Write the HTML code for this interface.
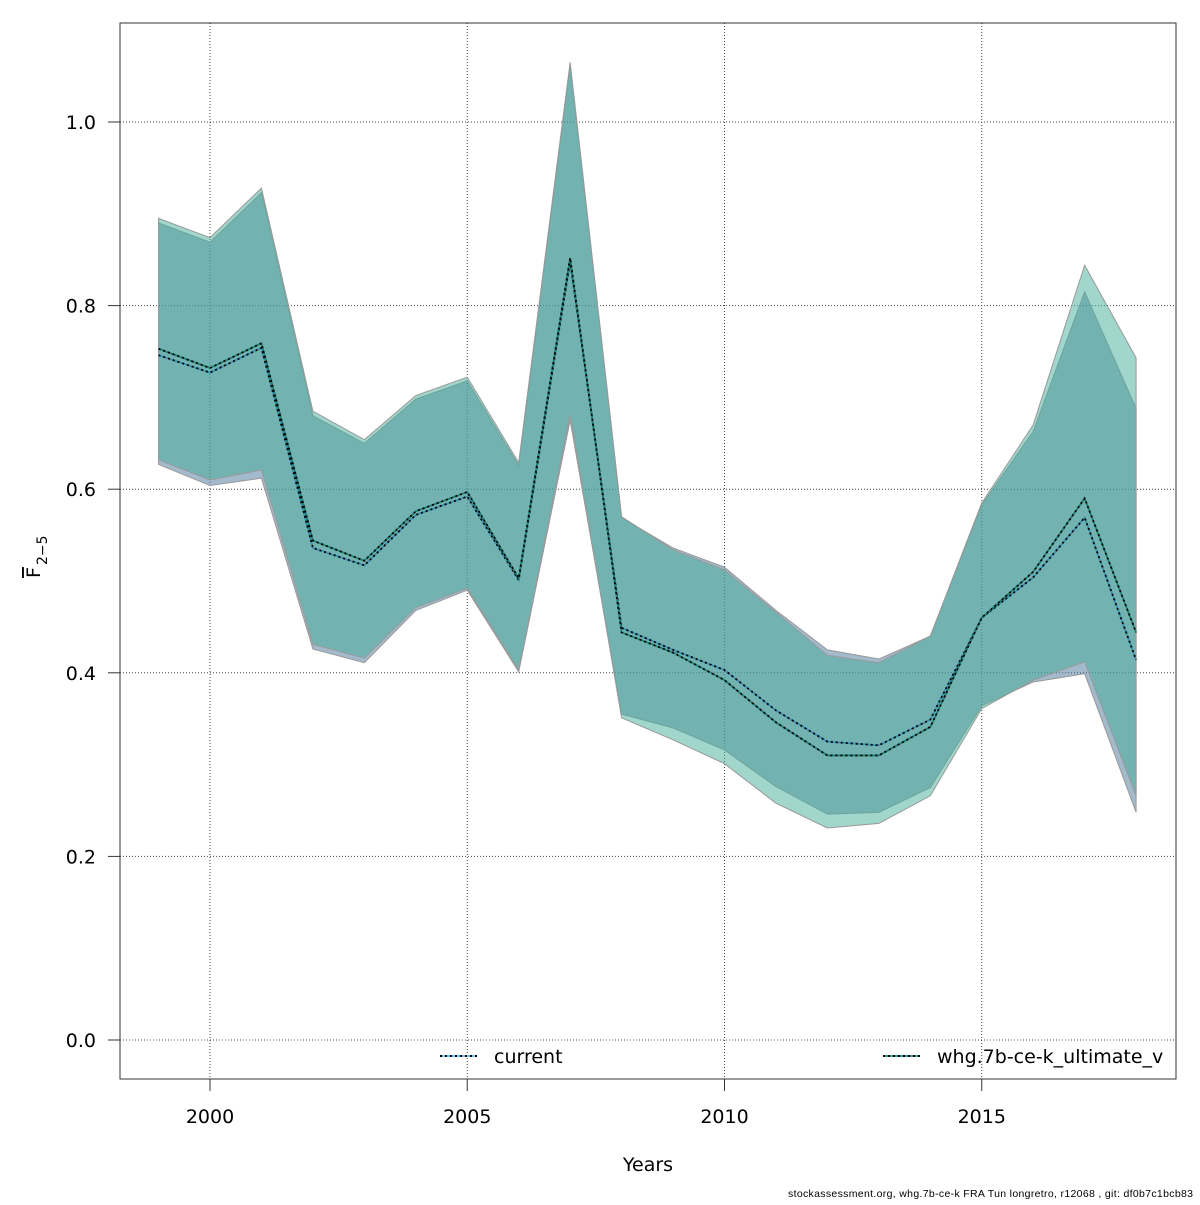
<!DOCTYPE html>
<html><head><meta charset="utf-8"><style>
body{margin:0;background:#fff;}
svg{font-family:"DejaVu Sans","Liberation Sans",sans-serif;}
</style></head><body>
<svg id="chart" width="1200" height="1200" viewBox="0 0 1200 1200">
<g id="grid"></g>
<g id="bands"></g>
<g id="lines"></g>
<rect x="120" y="23" width="1056" height="1056" fill="none" stroke="#333" stroke-width="1"/>
<g id="xticks"></g>
<g id="yticks"></g>
<text x="648" y="1171" font-size="19" text-anchor="middle">Years</text>
<g transform="translate(40,560) rotate(-90)">
<text x="-18" y="0" font-size="19" text-decoration="overline">F</text><text x="-5" y="7" font-size="14">2−5</text>
</g>
<g>
<g>
<line x1="440" y1="1056" x2="477" y2="1056" stroke="#6ac0e8" stroke-width="2"/>
<line x1="440" y1="1056" x2="477" y2="1056" stroke="#000" stroke-width="2" stroke-dasharray="2,3"/>
<text x="494" y="1063" font-size="19">current</text></g>
<g>
<line x1="883" y1="1056" x2="920" y2="1056" stroke="#2a9d8f" stroke-width="2"/>
<line x1="883" y1="1056" x2="920" y2="1056" stroke="#000" stroke-width="2" stroke-dasharray="2,3"/>
<text x="937" y="1063" font-size="19">whg.7b-ce-k_ultimate_v</text></g>
</g>
<text x="1193" y="1197" font-size="10.5" text-anchor="end" font-family="Liberation Sans, sans-serif" textLength="405">stockassessment.org, whg.7b-ce-k  FRA  Tun  longretro, r12068 , git: df0b7c1bcb83</text>
</svg>
<script>
const years=[1999,2000,2001,2002,2003,2004,2005,2006,2007,2008,2009,2010,2011,2012,2013,2014,2015,2016,2017,2018];
const curMean=[.746,.727,.754,.536,.517,.572,.592,.501,.848,.449,.425,.403,.359,.325,.321,.349,.46,.504,.569,.414];
const curHigh=[.89,.869,.923,.68,.65,.698,.718,.626,1.062,.569,.536,.515,.468,.425,.415,.44,.583,.663,.815,.688];
const curLow=[.627,.604,.612,.426,.411,.468,.49,.401,.675,.355,.34,.316,.276,.246,.248,.275,.364,.39,.399,.248];
const whgMean=[.753,.732,.759,.544,.522,.576,.597,.503,.852,.444,.422,.392,.346,.31,.31,.341,.46,.51,.59,.444];
const whgHigh=[.895,.874,.928,.685,.654,.702,.722,.629,1.065,.57,.534,.512,.466,.419,.411,.44,.585,.67,.844,.743];
const whgLow=[.632,.61,.621,.431,.416,.471,.492,.403,.681,.351,.327,.301,.258,.231,.236,.266,.361,.392,.412,.266];
const xTicks=[2000,2005,2010,2015];
const yTicks=[0,0.2,0.4,0.6,0.8,1.0];
const NS='http://www.w3.org/2000/svg';
const X=y=>210+(y-2000)*51.45;
const Y=v=>1040-v*918;
function mk(tag,attrs,parent){const e=document.createElementNS(NS,tag);for(const k in attrs)e.setAttribute(k,attrs[k]);parent.appendChild(e);return e;}
const grid=document.getElementById('grid'),bands=document.getElementById('bands'),lines=document.getElementById('lines');
const xt=document.getElementById('xticks'),yt=document.getElementById('yticks');
xTicks.forEach(t=>{
 const g=mk('line',{x1:X(t),x2:X(t),y1:23,y2:1079,stroke:'#444','stroke-dasharray':'1,2'},grid);
 
 
 const tk=mk('line',{x1:X(t),x2:X(t),y1:1079,y2:1091,stroke:'#333'},xt);
 
 
 const tx=mk('text',{x:X(t),y:1123,'font-size':19,'text-anchor':'middle'},xt);tx.textContent=t;
 
 
});
yTicks.forEach(t=>{
 const g=mk('line',{x1:120,x2:1176,y1:Y(t),y2:Y(t),stroke:'#444','stroke-dasharray':'1,2'},grid);
 
 
 const tk=mk('line',{x1:108,x2:120,y1:Y(t),y2:Y(t),stroke:'#333'},yt);
 
 
 const tx=mk('text',{x:96,y:Y(t)+7,'font-size':19,'text-anchor':'end'},yt);tx.textContent=t.toFixed(1);
 
 
});
function band(hi,lo,fill,name){
 let pts=years.map((y,i)=>X(y)+','+Y(hi[i]));
 pts=pts.concat(years.slice().reverse().map((y,j)=>X(y)+','+Y(lo[years.length-1-j])));
 const p=mk('polygon',{points:pts.join(' '),fill:fill,'fill-opacity':0.5,stroke:'#999','stroke-width':1},bands);
 
 
}
band(curHigh,curLow,'rgb(71,115,153)','band-current');
band(whgHigh,whgLow,'rgb(65,173,151)','band-whg');
function line(vals,col,name){
 const pts=years.map((y,i)=>X(y)+','+Y(vals[i])).join(' ');
 const a=mk('polyline',{points:pts,fill:'none',stroke:col,'stroke-width':1.8},lines);
 
 
 const b=mk('polyline',{points:pts,fill:'none',stroke:'#000','stroke-width':1.8,'stroke-dasharray':'2,3'},lines);
 
 
}
line(curMean,'#3a8fb0','line-current');
line(whgMean,'#1f7f70','line-whg');
</script>
</body></html>
